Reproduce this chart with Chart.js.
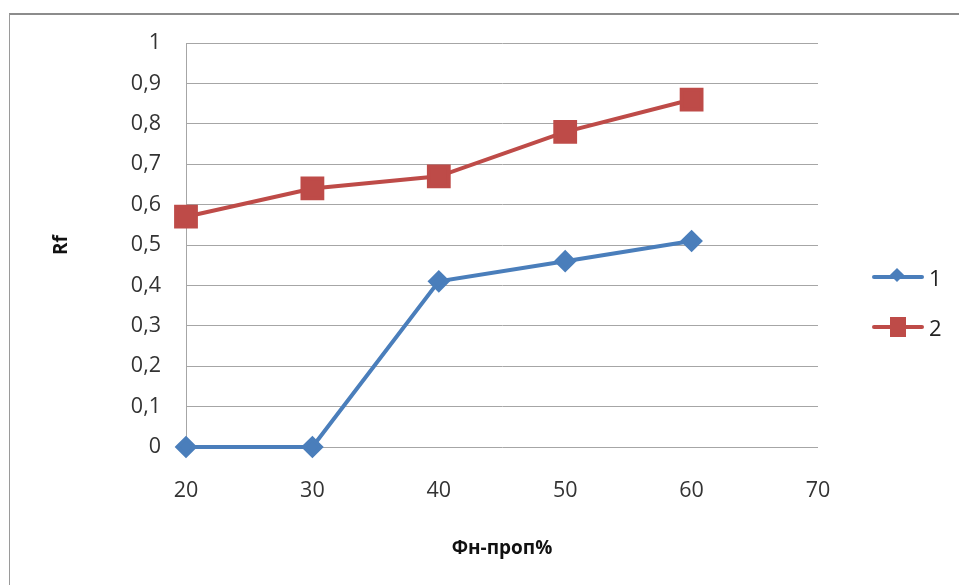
<!DOCTYPE html>
<html lang="ru">
<head>
    <meta charset="UTF-8">
    <title>Rf</title>
    <script src="https://cdn.jsdelivr.net/npm/chart.js"></script>
    <style>
        body {
            margin: 0;
            padding: 0;
            background: #ffffff;
            font-family: "Open Sans", sans-serif;
        }
        .wrap {
            position: relative;
            width: 959px;
            height: 585px;
            overflow: hidden;
        }
        .frame {
            position: absolute;
            left: 9px;
            top: 13px;
            width: 1000px;
            height: 700px;
            border-top: 2px solid #8c8c8c;
            border-left: 1px solid #9a9a9a;
        }
        canvas {
            position: absolute;
            left: 0;
            top: 0;
        }
        .legend {
            position: absolute;
            left: 872px;
            top: 262px;
            color: #222;
            font-size: 22px;
        }
        .legend .item {
            position: relative;
            height: 50px;
        }
        .legend .line {
            position: absolute;
            left: 0;
            top: 13px;
            width: 52px;
            height: 4px;
            border-radius: 2px;
        }
        .legend .mark {
            position: absolute;
        }
        .legend .label {
            position: absolute;
            left: 57px;
            top: 0;
            line-height: 30px;
        }
    </style>
</head>
<body>
<div class="wrap">
    <div class="frame"></div>
    <canvas id="rfChart" width="959" height="585"></canvas>
    <div class="legend">
        <div class="item">
            <div class="line" style="background:#4A7EBB"></div>
            <div class="mark" style="left:20px;top:8px;width:10px;height:10px;background:#4A7EBB;transform:rotate(45deg)"></div>
            <div class="label">1</div>
        </div>
        <div class="item">
            <div class="line" style="background:#BE4B48"></div>
            <div class="mark" style="left:18px;top:5px;width:16px;height:20px;background:#BE4B48"></div>
            <div class="label">2</div>
        </div>
    </div>
</div>

<script>
    // Данные графика
    const xValues = [20, 30, 40, 50, 60];
    const series1 = [0, 0, 0.41, 0.46, 0.51];
    const series2 = [0.57, 0.64, 0.67, 0.78, 0.86];
    const xTicks = [20, 30, 40, 50, 60, 70];
    const yTicks = [0, 0.1, 0.2, 0.3, 0.4, 0.5, 0.6, 0.7, 0.8, 0.9, 1];

    const toPoints = vals => vals.map((v, i) => ({ x: xValues[i], y: v }));
    const tickFont = { family: "Open Sans", size: 21.5 };
    const titleFont = { family: "Open Sans", size: 19, weight: 'bold' };

    new Chart(document.getElementById('rfChart'), {
        type: 'line',
        data: {
            datasets: [
                {
                    label: '1',
                    data: toPoints(series1),
                    borderColor: '#4A7EBB',
                    backgroundColor: '#4A7EBB',
                    borderWidth: 4,
                    pointStyle: 'rectRot',
                    pointRadius: 8.5,
                    pointHoverRadius: 8.5,
                    tension: 0,
                    clip: false
                },
                {
                    label: '2',
                    data: toPoints(series2),
                    borderColor: '#BE4B48',
                    backgroundColor: '#BE4B48',
                    borderWidth: 4,
                    pointStyle: 'rect',
                    pointRadius: 14,
                    pointHoverRadius: 14,
                    tension: 0,
                    clip: false
                }
            ]
        },
        options: {
            responsive: false,
            animation: false,
            layout: { padding: { left: 0, top: 43, right: 141, bottom: 0 } },
            plugins: {
                legend: { display: false },
                tooltip: { enabled: false }
            },
            scales: {
                x: {
                    type: 'linear',
                    min: 20,
                    max: 70,
                    afterBuildTicks: s => { s.ticks = xTicks.map(v => ({ value: v })); },
                    afterFit: s => { s.height = 138; },
                    grid: { display: false, drawTicks: false },
                    border: { display: false },
                    ticks: { font: tickFont, color: '#333', padding: 31 },
                    title: {
                        display: true,
                        text: 'Фн-проп%',
                        font: titleFont,
                        color: '#111',
                        padding: { top: 0, bottom: 25 }
                    }
                },
                y: {
                    min: 0,
                    max: 1,
                    afterBuildTicks: s => { s.ticks = yTicks.map(v => ({ value: v })); },
                    afterFit: s => { s.width = 186; },
                    grid: { color: '#a6a6a6', lineWidth: 1, drawTicks: false },
                    border: { display: true, color: '#a6a6a6', width: 1 },
                    ticks: {
                        font: tickFont,
                        color: '#333',
                        padding: 25,
                        callback: v => String(v).replace('.', ',')
                    },
                    title: {
                        display: true,
                        text: 'Rf',
                        font: titleFont,
                        color: '#111',
                        padding: { top: 50, bottom: 0 }
                    }
                }
            }
        }
    });
</script>
</body>
</html>
